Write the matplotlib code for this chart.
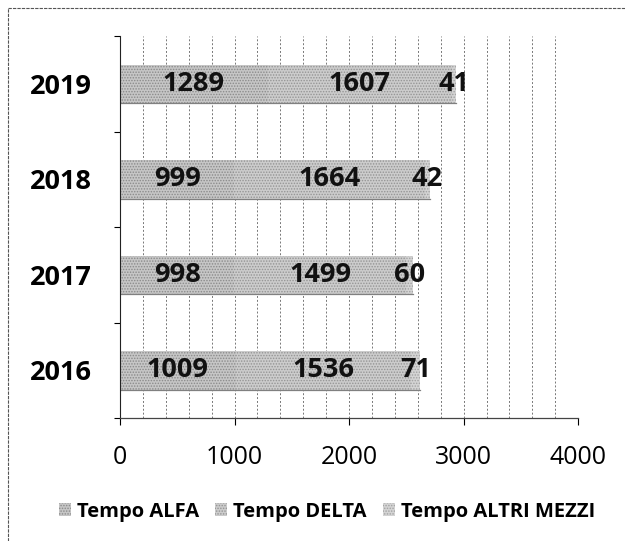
import numpy as np
from matplotlib import pyplot as plt
from matplotlib.lines import Line2D
from matplotlib.patches import Patch

plt.rcParams["font.family"] = ["Open Sans", "DejaVu Sans"]
plt.rcParams["hatch.linewidth"] = 0.7

years = ["2016", "2017", "2018", "2019"]
series_names = ["Tempo ALFA", "Tempo DELTA", "Tempo ALTRI MEZZI"]
tempo_alfa = [1009, 998, 999, 1289]
tempo_delta = [1536, 1499, 1664, 1607]
tempo_altri = [71, 60, 42, 41]

face_colors = ["#c6c6c6", "#cccccc", "#d4d4d4"]
hatch_colors = ["#8a8a8a", "#949494", "#a2a2a2"]

fig = plt.figure(figsize=(6.25, 5.41), dpi=100)
ax = fig.add_axes([0.192, 0.227, 0.733, 0.706])

y = np.arange(len(years))
left = np.zeros(len(years))
for name, vals, fc, hc in zip(
    series_names, [tempo_alfa, tempo_delta, tempo_altri], face_colors, hatch_colors
):
    vals = np.array(vals)
    ax.barh(
        y,
        vals,
        left=left,
        height=0.4,
        color=fc,
        edgecolor=hc,
        hatch="......",
        linewidth=0,
        zorder=2,
    )
    for yi, l, v in zip(y, left, vals):
        ax.text(
            l + v / 2,
            yi,
            str(v),
            ha="center",
            va="center",
            fontsize=19.5,
            fontweight="bold",
            color="#111111",
            zorder=3,
        )
    left = left + vals

# dark line along the bottom of each bar
for yi, total in zip(y, left):
    ax.plot([0, total], [yi - 0.2, yi - 0.2], color="#808080", lw=0.9, zorder=2.5)

ax.set_xlim(0, 4000)
ax.set_ylim(-0.5, len(years) - 0.5)

ax.set_xticks([0, 1000, 2000, 3000, 4000])
ax.set_xticks(np.arange(0, 4001, 200), minor=True)
ax.tick_params(axis="x", which="major", length=5, width=0.8, pad=14, labelsize=18)
ax.tick_params(axis="x", which="minor", length=0)
ax.xaxis.grid(True, which="both", color="#777777", linestyle=(0, (2, 2)), lw=0.7, zorder=1)

ax.set_yticks(y)
ax.set_yticklabels(years, fontsize=19.5, fontweight="bold")
ax.set_yticks(np.arange(-0.5, len(years)), minor=True)
ax.tick_params(axis="y", which="major", length=0, pad=20)
ax.tick_params(axis="y", which="minor", length=4, width=0.8)

for side in ("top", "right"):
    ax.spines[side].set_visible(False)
ax.spines["left"].set_color("#222222")
ax.spines["bottom"].set_color("#444444")
ax.spines["left"].set_linewidth(0.8)
ax.spines["bottom"].set_linewidth(0.9)

handles = [
    Patch(facecolor=fc, edgecolor=hc, hatch="......", linewidth=0, label=n)
    for n, fc, hc in zip(series_names, face_colors, hatch_colors)
]
fig.legend(
    handles=handles,
    loc="center",
    bbox_to_anchor=(0.523, 0.054),
    ncol=3,
    frameon=False,
    prop={"size": 14.5, "weight": "bold"},
    handlelength=0.6,
    handleheight=0.6,
    handletextpad=0.3,
    columnspacing=0.8,
)

# frame lines around the figure
fig.add_artist(Line2D([0.013, 0.013], [0.0, 0.985], color="#555555", lw=0.8, linestyle=(0, (3, 1))))
fig.add_artist(Line2D([0.013, 1.0], [0.985, 0.985], color="#555555", lw=0.8, linestyle=(0, (3, 1))))

fig.savefig("out.png", dpi=100)
